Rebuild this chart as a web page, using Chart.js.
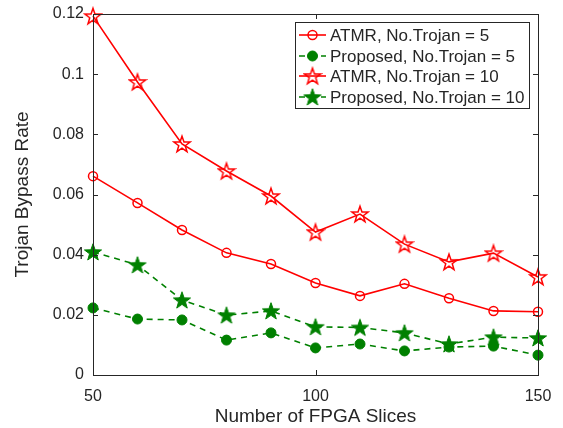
<!DOCTYPE html>
<html><head><meta charset="utf-8">
<script src="https://cdn.jsdelivr.net/npm/chart.js@4/dist/chart.umd.min.js"></script>
<style>html,body{margin:0;padding:0;background:#fff}#wrap{width:563px;height:428px}</style>
</head><body><div id="wrap"><canvas id="c" width="563" height="428"></canvas></div>
<script>
const xValues=[50,60,70,80,90,100,110,120,130,140,150];
const atmr5=[0.0661,0.0572,0.0482,0.0406,0.0369,0.0306,0.0263,0.0303,0.0255,0.0213,0.0210];
const proposed5=[0.0223,0.0186,0.0183,0.0116,0.0140,0.0090,0.0103,0.0080,0.0093,0.0096,0.0066];
const atmr10=[0.1193,0.0974,0.0768,0.0678,0.0595,0.0475,0.0535,0.0435,0.0376,0.0405,0.0326];
const proposed10=[0.0409,0.0366,0.0249,0.0199,0.0213,0.0160,0.0158,0.0140,0.0103,0.0126,0.0123];
const seriesLabels=['ATMR, No.Trojan = 5','Proposed, No.Trojan = 5','ATMR, No.Trojan = 10','Proposed, No.Trojan = 10'];
const xTicks=[50,100,150];
const yTicks=[0,0.02,0.04,0.06,0.08,0.1,0.12];
const xTitle='Number of FPGA Slices';
const yTitle='Trojan Bypass Rate';

const FONT="'Liberation Sans', Arial, Helvetica, sans-serif";
const TXT='#262626';
const RED='#ff0000', GREEN='#008000';

function makeStar(size, stroke, fill, lw){
  const c=document.createElement('canvas'); c.width=size; c.height=size;
  const g=c.getContext('2d');
  const R=size/2-lw, r=R*0.40, cx=size/2, cy=size/2+R*0.08;
  g.beginPath();
  for(let i=0;i<10;i++){
    const a=-Math.PI/2+i*Math.PI/5, rad=(i%2)?r:R;
    g.lineTo(cx+rad*Math.cos(a), cy+rad*Math.sin(a));
  }
  g.closePath();
  if(fill){g.fillStyle=fill; g.fill();}
  g.lineWidth=lw; g.strokeStyle=stroke; g.lineJoin='miter'; g.stroke();
  return c;
}
const openStar=makeStar(20,RED,null,1.5);
const filledStar=makeStar(20,GREEN,GREEN,1);

const pts=a=>a.map((v,i)=>({x:xValues[i],y:v}));

const datasets=[
  {label:seriesLabels[0],data:pts(atmr5),borderColor:RED,borderWidth:1.6,pointStyle:'circle',pointRadius:4.5,pointBorderWidth:1.5,pointBorderColor:RED,pointBackgroundColor:'rgba(0,0,0,0)',borderDash:[],clip:false},
  {label:seriesLabels[1],data:pts(proposed5),borderColor:GREEN,borderWidth:1.6,pointStyle:'circle',pointRadius:5,pointBorderWidth:1,pointBorderColor:GREEN,pointBackgroundColor:GREEN,borderDash:[6,5],clip:false},
  {label:seriesLabels[2],data:pts(atmr10),borderColor:RED,borderWidth:1.6,pointStyle:openStar,pointRadius:10,borderDash:[],clip:false},
  {label:seriesLabels[3],data:pts(proposed10),borderColor:GREEN,borderWidth:1.6,pointStyle:filledStar,pointRadius:10,borderDash:[6,5],clip:false}
];

const boxPlugin={
  id:'box',
  afterDraw(chart){
    const {ctx,chartArea:a,scales}=chart;
    ctx.save();
    ctx.strokeStyle=TXT; ctx.lineWidth=1;
    ctx.strokeRect(Math.round(a.left)+0.5,Math.round(a.top)+0.5,Math.round(a.right-a.left),Math.round(a.bottom-a.top));
    const L=5;
    ctx.beginPath();
    scales.x.ticks.forEach(t=>{
      const px=Math.round(scales.x.getPixelForValue(t.value))+0.5;
      ctx.moveTo(px,a.bottom); ctx.lineTo(px,a.bottom-L);
      ctx.moveTo(px,a.top); ctx.lineTo(px,a.top+L);
    });
    scales.y.ticks.forEach(t=>{
      const py=Math.round(scales.y.getPixelForValue(t.value))+0.5;
      ctx.moveTo(a.left,py); ctx.lineTo(a.left+L,py);
      ctx.moveTo(a.right,py); ctx.lineTo(a.right-L,py);
    });
    ctx.stroke();
    // legend
    const bx=295.5, by=22.5, bw=234, bh=86;
    ctx.fillStyle='#fff'; ctx.fillRect(bx,by,bw,bh);
    ctx.strokeStyle=TXT; ctx.strokeRect(bx,by,bw,bh);
    const rows=[35,56,76,97];
    chart.data.datasets.forEach((ds,i)=>{
      const y=rows[i];
      ctx.save();
      ctx.strokeStyle=ds.borderColor; ctx.lineWidth=ds.borderWidth;
      ctx.setLineDash(ds.borderDash||[]);
      ctx.beginPath(); ctx.moveTo(299,y); ctx.lineTo(326,y); ctx.stroke();
      ctx.setLineDash([]);
      const ps=ds.pointStyle;
      if(typeof ps==='string'){
        ctx.beginPath(); ctx.arc(312.5,y,ds.pointRadius,0,Math.PI*2);
        if(ds.pointBackgroundColor!=='rgba(0,0,0,0)'){ctx.fillStyle=ds.pointBackgroundColor;ctx.fill();}
        ctx.lineWidth=ds.pointBorderWidth; ctx.strokeStyle=ds.pointBorderColor; ctx.stroke();
      } else {
        ctx.drawImage(ps,312.5-ps.width/2,y-ps.height/2);
      }
      ctx.restore();
      ctx.fillStyle=TXT; ctx.font='17px '+FONT; ctx.textBaseline='middle'; ctx.textAlign='left';
      ctx.fillText(ds.label,330,y+1);
    });
    ctx.restore();
  }
};

new Chart(document.getElementById('c'),{
  type:'line',
  data:{datasets},
  options:{
    responsive:false,animation:false,
    layout:{padding:{top:14,right:25,left:0,bottom:0}},
    plugins:{legend:{display:false},tooltip:{enabled:false}},
    scales:{
      x:{type:'linear',min:50,max:150,
        afterBuildTicks:s=>{s.ticks=xTicks.map(v=>({value:v}));},
        afterFit:s=>{s.height=53;s.paddingLeft=0;s.paddingRight=0;},
        grid:{display:false,drawTicks:false},border:{display:false},
        ticks:{color:TXT,font:{family:FONT,size:16},padding:12,maxRotation:0,callback:v=>String(v)},
        title:{display:true,text:xTitle,color:TXT,font:{family:FONT,size:19},padding:{top:0,bottom:0}}
      },
      y:{type:'linear',min:0,max:0.12,
        afterBuildTicks:s=>{s.ticks=yTicks.map(v=>({value:v}));},
        afterFit:s=>{s.width=93;s.paddingTop=0;s.paddingBottom=0;},
        grid:{display:false,drawTicks:false},border:{display:false},
        ticks:{color:TXT,font:{family:FONT,size:16},padding:9,callback:v=>String(parseFloat(Number(v).toFixed(3)))},
        title:{display:true,text:yTitle,color:TXT,font:{family:FONT,size:19},padding:{top:11,bottom:11}}
      }
    }
  },
  plugins:[boxPlugin]
});
</script></body></html>
